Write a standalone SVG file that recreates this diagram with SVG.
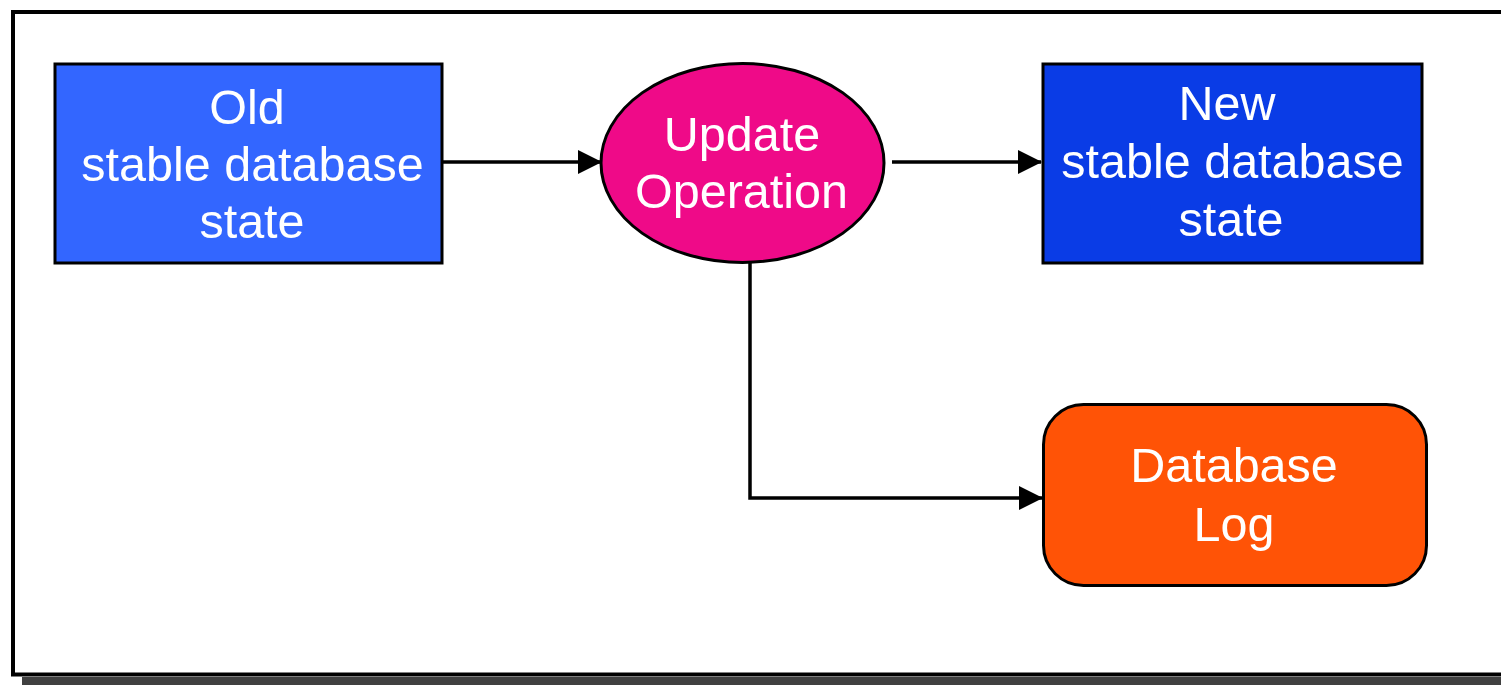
<svg xmlns="http://www.w3.org/2000/svg" width="1501" height="685" viewBox="0 0 1501 685">
<defs>
<style>
.node{stroke:#000;stroke-width:3}
.lbl{font-family:"Liberation Sans",Arial,sans-serif;font-size:48.5px;fill:#fff;text-anchor:middle}
.conn{stroke:#000;stroke-width:3.5;fill:none}
</style>
<marker id="arr" markerUnits="userSpaceOnUse" markerWidth="24" markerHeight="26" refX="23" refY="12" orient="auto">
<path d="M0,0 L24,12 L0,24 Z" fill="#000"/>
</marker>
</defs>
<rect x="0" y="0" width="1501" height="685" fill="#fff"/>
<g id="frame">
<rect x="22" y="677" width="1479" height="8" fill="#404040"/>
<rect x="13" y="12" width="1500" height="662.5" fill="none" stroke="#000" stroke-width="4"/>
</g>
<g id="connectors">
<line class="conn" x1="443" y1="162" x2="601" y2="162" marker-end="url(#arr)"/>
<line class="conn" x1="892" y1="162" x2="1041" y2="162" marker-end="url(#arr)"/>
<polyline class="conn" points="750,263 750,498 1042,498" marker-end="url(#arr)"/>
</g>
<g id="old">
<rect class="node" x="55" y="64" width="387" height="199" fill="#3366FF"/>
<text class="lbl" x="247" y="124">Old</text>
<text class="lbl" x="252.5" y="181">stable database</text>
<text class="lbl" x="252" y="238">state</text>
</g>
<g id="update">
<ellipse class="node" cx="742.5" cy="163" rx="141.5" ry="99.5" fill="#EF0A88"/>
<text class="lbl" x="742" y="151">Update</text>
<text class="lbl" x="741.5" y="208">Operation</text>
</g>
<g id="new">
<rect class="node" x="1043" y="64" width="379" height="199" fill="#0A3CE6"/>
<text class="lbl" x="1227" y="120">New</text>
<text class="lbl" x="1232.5" y="178">stable database</text>
<text class="lbl" x="1231" y="236">state</text>
</g>
<g id="log">
<rect class="node" x="1043.5" y="404.5" width="383" height="181" rx="40" ry="40" fill="#FF5306"/>
<text class="lbl" x="1234" y="482">Database</text>
<text class="lbl" x="1234" y="541">Log</text>
</g>
</svg>
